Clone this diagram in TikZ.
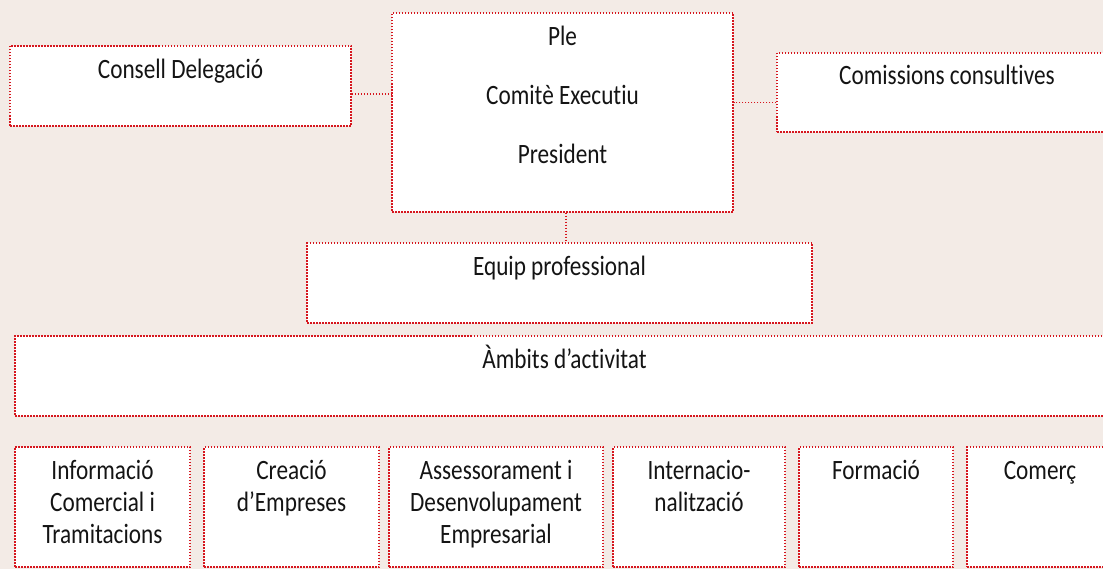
\documentclass[tikz,border=0pt]{standalone}
\usepackage{fontspec}
\setmainfont[FakeStretch=0.83,Ligatures=NoCommon]{Carlito}
\definecolor{dotred}{RGB}{214,22,30}
\definecolor{paper}{RGB}{243,235,230}
\definecolor{ink}{RGB}{20,20,20}

\begin{document}
\begin{tikzpicture}[x=1pt,y=-1pt,
    box/.style={shape=rectangle,draw=dotred,fill=white,line width=1.5pt,dash pattern=on 1.5pt off 1.5pt,inner sep=0pt},
    lbl/.style={anchor=base,align=center,text=ink,inner sep=0pt,font=\fontsize{28}{32}\selectfont},
    link/.style={draw=dotred,line width=1.5pt,dash pattern=on 1.5pt off 1.5pt}]
        \useasboundingbox (0,0) rectangle (1103,569);
        \fill[paper] (0,0) rectangle (1103,569);
        % top row
        \node[box,minimum width=341pt,minimum height=80pt](consell) at (180.5,86) {};
        \node[box,minimum width=341pt,minimum height=199pt](organs) at (562.5,112.5) {};
        \node[box,minimum width=340pt,minimum height=79pt](comissions) at (947,92.5) {};
        \node[lbl](consellt) at ([yshift=-33pt]consell.north) {Consell Delegació};
        \node[lbl](organst) at ([yshift=-151pt]organs.north) {Ple\\[27pt]Comitè Executiu\\[27pt]President};
        \node[lbl](comissionst) at ([yshift=-32pt]comissions.north) {Comissions consultives};
        % middle
        \node[box,minimum width=505pt,minimum height=80pt](equip) at (559.5,283) {};
        \node[box,minimum width=1099pt,minimum height=80pt](ambits) at (564.5,376) {};
        \node[lbl](equipt) at ([yshift=-33pt]equip.north) {Equip professional};
        \node[lbl](ambitst) at ([yshift=-33pt]ambits.north) {Àmbits d’activitat};
        % bottom row (base = last line)
        \node[box,minimum width=175pt,minimum height=120pt](info) at (102.5,507) {};
        \node[box,minimum width=175pt,minimum height=120pt](creacio) at (291.5,507) {};
        \node[box,minimum width=214pt,minimum height=120pt](assess) at (496,507) {};
        \node[box,minimum width=172pt,minimum height=120pt](intern) at (699,507) {};
        \node[box,minimum width=154pt,minimum height=120pt](formacio) at (876,507) {};
        \node[box,minimum width=146pt,minimum height=120pt](comerc) at (1040,507) {};
        \node[lbl](infot) at ([yshift=-97pt]info.north) {Informació\\Comercial i\\Tramitacions};
        \node[lbl](creaciot) at ([yshift=-65pt]creacio.north) {Creació\\d’Empreses};
        \node[lbl](assesst) at ([yshift=-97pt]assess.north) {Assessorament i\\Desenvolupament\\Empresarial};
        \node[lbl](interntt) at ([yshift=-65pt]intern.north) {Internacio-\\nalització};
        \node[lbl](formaciot) at ([yshift=-33pt]formacio.north) {Formació};
        \node[lbl](comerct) at ([yshift=-33pt]comerc.north) {Comerç};
        % connectors
        \path ([yshift=-8pt]consell.east) edge[link] ([yshift=-8pt]consell.east -| organs.west);
        \path ([yshift=-10pt]comissions.west) edge[link] ([yshift=-10pt]comissions.west -| organs.east);
        \path ([xshift=3.5pt]organs.south) edge[link] ([xshift=3.5pt]organs.south |- equip.north);
\end{tikzpicture}
\end{document}
